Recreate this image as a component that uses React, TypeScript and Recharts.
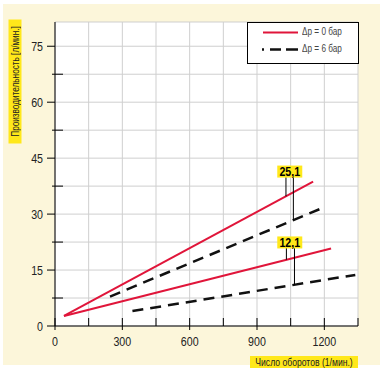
import React from 'react';
import { LineChart, Line, XAxis, YAxis, CartesianGrid, ReferenceLine, ReferenceDot } from 'recharts';

// Series: pump speed (1/min) vs flow (l/min)
const red251Rpm = [40, 1150];
const red251Flow = [2.7, 38.7];
const dash251Rpm = [245, 1178];
const dash251Flow = [7.9, 31.3];
const red121Rpm = [40, 1230];
const red121Flow = [2.7, 20.8];
const dash121Rpm = [345, 1338];
const dash121Flow = [4.0, 13.7];

const xTicks = [0, 150, 300, 450, 600, 750, 900, 1050, 1200, 1350];
const yTicks = [0, 7.5, 15, 22.5, 30, 37.5, 45, 52.5, 60, 67.5, 75];
const xLabeled = [0, 300, 600, 900, 1200];
const yLabeled = [0, 15, 30, 45, 60, 75];

const sizeLabels = ['25,1', '12,1'];
const labelRpm = [1046, 1046];
const labelFlow = [41.4, 22.4];
const leaderRedRpm = [1029, 1031];
const leaderDashRpm = [1062, 1067];
const leaderTopFlow = [39.9, 20.9];

const legendLabels = ['\u0394p = 0 \u0431\u0430\u0440', '\u0394p = 6 \u0431\u0430\u0440'];

const RED = '#E0153A';
const BLACK = '#111111';
const YELLOW = '#FFE81A';
const CREAM = '#FCF6DA';
const FONT = '"Liberation Sans", Arial, sans-serif';
const SQ = 0.82;

const toData = (xs: number[], ys: number[]) => xs.map((x, i) => ({ x, y: ys[i] }));
const interp = (xs: number[], ys: number[], x: number) =>
  ys[0] + ((ys[1] - ys[0]) * (x - xs[0])) / (xs[1] - xs[0]);

const series = [
  { key: 'r251', data: toData(red251Rpm, red251Flow), color: RED, dash: undefined, w: 2 },
  { key: 'd251', data: toData(dash251Rpm, dash251Flow), color: BLACK, dash: '11 7', w: 2.5 },
  { key: 'r121', data: toData(red121Rpm, red121Flow), color: RED, dash: undefined, w: 2 },
  { key: 'd121', data: toData(dash121Rpm, dash121Flow), color: BLACK, dash: '11 7', w: 2.5 },
];

const redSets = [[red251Rpm, red251Flow], [red121Rpm, red121Flow]];
const dashSets = [[dash251Rpm, dash251Flow], [dash121Rpm, dash121Flow]];

const NarrowText = ({ x, y, anchor, size, bold, children }: any) => (
  <text
    transform={`translate(${x},${y}) scale(${SQ},1)`}
    textAnchor={anchor}
    fontSize={size}
    fontWeight={bold ? 'bold' : 'normal'}
    fontFamily={FONT}
    fill={bold ? '#000' : '#222'}
  >
    {children}
  </text>
);

const LeftTick = (p: any) => {
  const v = p.payload.value;
  const major = yLabeled.includes(v);
  return (
    <g>
      {major ? (
        <line x1={p.x - 8} x2={p.x} y1={p.y} y2={p.y} stroke="#000" strokeWidth={1} />
      ) : (
        <line x1={p.x - 3} x2={p.x + 8} y1={p.y} y2={p.y} stroke="#000" strokeWidth={1} />
      )}
      {major && (
        <NarrowText x={p.x - 12} y={p.y + 4.5} anchor="end" size={13}>
          {v}
        </NarrowText>
      )}
    </g>
  );
};

const RightTick = (p: any) => (
  <line x1={p.x - 7} x2={p.x} y1={p.y} y2={p.y} stroke="#000" strokeWidth={1} />
);

const BottomTick = (p: any) => {
  const v = p.payload.value;
  const major = xLabeled.includes(v);
  return (
    <g>
      <line x1={p.x} x2={p.x} y1={p.y - 8} y2={p.y + (major ? 4 : 0)} stroke="#000" strokeWidth={1} />
      {major && (
        <NarrowText x={p.x} y={p.y + 20} anchor="middle" size={13}>
          {v}
        </NarrowText>
      )}
    </g>
  );
};

const TopTick = (p: any) => (
  <line x1={p.x} x2={p.x} y1={p.y} y2={p.y + 8} stroke="#000" strokeWidth={1} />
);

const SizeLabel = (text: string) => (props: any) => (
  <g>
    <rect x={props.cx - 12.5} y={props.cy - 6} width={25} height={12} fill={YELLOW} />
    <NarrowText x={props.cx} y={props.cy + 4.5} anchor="middle" size={13} bold>
      {text}
    </NarrowText>
  </g>
);

const squeeze: React.CSSProperties = {
  display: 'inline-block',
  transform: `scaleX(${SQ})`,
  transformOrigin: '50% 50%',
};

export default function App() {
  return (
    <div style={{ position: 'absolute', left: 0, top: 0, width: 383, height: 375, background: '#fff', overflow: 'hidden' }}>
      <div style={{ position: 'absolute', left: 3, top: 4, width: 377, height: 361, background: CREAM }} />
      <div style={{ position: 'absolute', left: 0, top: 0 }}>
        <LineChart width={383} height={375} margin={{ top: 22, right: 25, bottom: 0, left: 0 }}>
          <CartesianGrid stroke="#cfcfcf" strokeWidth={1} fill="#ffffff" />
          <XAxis
            dataKey="x"
            type="number"
            domain={[0, 1350]}
            ticks={xTicks}
            allowDataOverflow
            height={49}
            tickSize={0}
            tickMargin={0}
            tickLine={false}
            axisLine={{ stroke: '#000' }}
            tick={BottomTick}
            interval={0}
          />
          <XAxis
            xAxisId="top"
            orientation="top"
            dataKey="x"
            type="number"
            domain={[0, 1350]}
            ticks={xTicks}
            allowDataOverflow
            height={0}
            tickSize={0}
            tickMargin={0}
            tickLine={false}
            axisLine={{ stroke: '#000' }}
            tick={TopTick}
            interval={0}
          />
          <YAxis
            type="number"
            domain={[0, 81.5]}
            ticks={yTicks}
            allowDataOverflow
            width={55}
            tickSize={0}
            tickMargin={0}
            tickLine={false}
            axisLine={{ stroke: '#000' }}
            tick={LeftTick}
            interval={0}
          />
          <YAxis
            yAxisId="right"
            orientation="right"
            type="number"
            domain={[0, 81.5]}
            ticks={yTicks}
            allowDataOverflow
            width={0}
            tickSize={0}
            tickMargin={0}
            tickLine={false}
            axisLine={{ stroke: '#000' }}
            tick={RightTick}
            interval={0}
          />
          {series.map((s) => (
            <Line
              key={s.key}
              data={s.data}
              dataKey="y"
              type="linear"
              stroke={s.color}
              strokeWidth={s.w}
              strokeDasharray={s.dash}
              dot={false}
              activeDot={false}
              isAnimationActive={false}
            />
          ))}
          {sizeLabels.map((lab, i) => {
            const [rx, ry] = redSets[i];
            const [dx, dy] = dashSets[i];
            return (
              <React.Fragment key={lab}>
                <ReferenceLine
                  segment={[
                    { x: leaderRedRpm[i], y: interp(rx, ry, leaderRedRpm[i]) },
                    { x: leaderRedRpm[i], y: leaderTopFlow[i] },
                  ]}
                  stroke="#000"
                  strokeWidth={1}
                />
                <ReferenceLine
                  segment={[
                    { x: leaderDashRpm[i], y: interp(dx, dy, leaderDashRpm[i]) },
                    { x: leaderDashRpm[i], y: leaderTopFlow[i] },
                  ]}
                  stroke="#000"
                  strokeWidth={1}
                />
                <ReferenceDot x={labelRpm[i]} y={labelFlow[i]} r={1} shape={SizeLabel(lab)} />
              </React.Fragment>
            );
          })}
        </LineChart>
      </div>
      {/* Legend */}
      <div
        style={{
          position: 'absolute',
          left: 247,
          top: 22,
          width: 110,
          height: 40,
          background: '#fff',
          border: '1px solid #000',
          fontFamily: FONT,
          fontSize: 10,
          color: '#444',
        }}
      >
        <svg width={50} height={40} style={{ position: 'absolute', left: 0, top: 0 }}>
          <line x1={15} x2={50} y1={9.5} y2={9.5} stroke={RED} strokeWidth={2} />
          <line x1={14} x2={50} y1={26.5} y2={26.5} stroke={BLACK} strokeWidth={2.5} strokeDasharray="2 6 11 5 12 0" />
        </svg>
        <div style={{ position: 'absolute', left: 54, top: 3, whiteSpace: 'nowrap' }}>
          <span style={{ ...squeeze, transformOrigin: '0 50%' }}>{legendLabels[0]}</span>
        </div>
        <div style={{ position: 'absolute', left: 54, top: 20, whiteSpace: 'nowrap' }}>
          <span style={{ ...squeeze, transformOrigin: '0 50%' }}>{legendLabels[1]}</span>
        </div>
      </div>
      {/* Y axis title */}
      <div
        style={{
          position: 'absolute',
          left: 14.5 - 62,
          top: 81 - 6.5,
          width: 124,
          height: 13,
          background: YELLOW,
          transform: 'rotate(-90deg)',
          transformOrigin: '50% 50%',
          fontFamily: FONT,
          fontSize: 10,
          lineHeight: '13px',
          textAlign: 'center',
          whiteSpace: 'nowrap',
          color: '#222',
          overflow: 'visible',
        }}
      >
        <span style={{ ...squeeze, width: 152, marginLeft: -14 }}>
          {'\u041f\u0440\u043e\u0438\u0437\u0432\u043e\u0434\u0438\u0442\u0435\u043b\u044c\u043d\u043e\u0441\u0442\u044c [\u043b/\u043c\u0438\u043d.]'}
        </span>
      </div>
      {/* X axis title */}
      <div
        style={{
          position: 'absolute',
          left: 250,
          top: 356,
          width: 108,
          height: 12,
          background: YELLOW,
          fontFamily: FONT,
          fontSize: 10.5,
          lineHeight: '12px',
          textAlign: 'center',
          whiteSpace: 'nowrap',
          color: '#222',
        }}
      >
        <span style={{ ...squeeze, width: 130, marginLeft: -11 }}>
          {'\u0427\u0438\u0441\u043b\u043e \u043e\u0431\u043e\u0440\u043e\u0442\u043e\u0432 (1/\u043c\u0438\u043d.)'}
        </span>
      </div>
    </div>
  );
}
